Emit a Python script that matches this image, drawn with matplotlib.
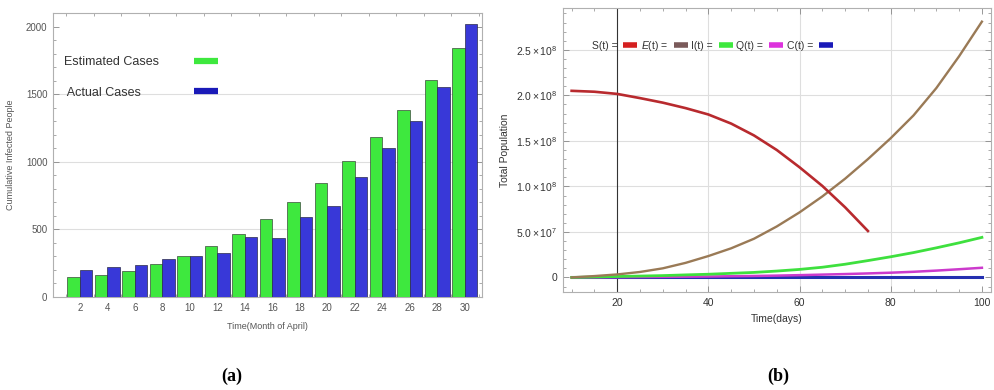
import matplotlib.pyplot as plt
from matplotlib.lines import Line2D
from matplotlib.ticker import MultipleLocator
import numpy as np

plt.rcParams['font.family'] = ['Liberation Sans', 'DejaVu Sans']
plt.rcParams['mathtext.fontset'] = 'custom'
plt.rcParams['mathtext.rm'] = 'Liberation Sans'
plt.rcParams['mathtext.it'] = 'Liberation Sans:italic'

# cumulative infected people, every second day of April
days = [2, 4, 6, 8, 10, 12, 14, 16, 18, 20, 22, 24, 26, 28, 30]
estimated = [150, 160, 195, 242, 301, 378, 469, 575, 701, 842, 1002, 1185, 1383, 1602, 1844]
actual = [200, 225, 235, 279, 301, 324, 440, 437, 595, 674, 887, 1104, 1301, 1556, 2015]

# model compartments over time (days)
t_s = [10, 15, 20, 25, 30, 35, 40, 45, 50, 55, 60, 65, 70, 75]
S_t = [2.05e8, 2.04e8, 2.016e8, 1.97e8, 1.92e8, 1.86e8, 1.79e8, 1.69e8, 1.56e8,
       1.40e8, 1.21e8, 1.005e8, 0.77e8, 0.51e8]
t = [10, 15, 20, 25, 30, 35, 40, 45, 50, 55, 60, 65, 70, 75, 80, 85, 90, 95, 100]
E_t = [0.0, 0.15e7, 0.33e7, 0.6e7, 1.0e7, 1.6e7, 2.35e7, 3.2e7, 4.25e7, 5.6e7, 7.15e7,
       8.9e7, 1.085e8, 1.30e8, 1.53e8, 1.78e8, 2.08e8, 2.43e8, 2.81e8]
I_t = [0.0, 0.05e7, 0.1e7, 0.15e7, 0.2e7, 0.28e7, 0.35e7, 0.45e7, 0.55e7, 0.7e7, 0.88e7,
       1.12e7, 1.45e7, 1.85e7, 2.27e7, 2.73e7, 3.25e7, 3.8e7, 4.4e7]
Q_t = [0.0, 0.015e7, 0.03e7, 0.045e7, 0.06e7, 0.08e7, 0.1e7, 0.13e7, 0.16e7, 0.2e7, 0.25e7,
       0.31e7, 0.37e7, 0.44e7, 0.52e7, 0.62e7, 0.75e7, 0.9e7, 1.06e7]
C_t = [0.0, 0.0, 0.0, 0.0, 0.0, 0.0, 0.0, 0.0, 0.0, 0.0, 0.0, 0.0, 0.0, 0.0, 0.0,
       0.0, 0.0, 0.0, 0.0]

pop_ticks = [0, 5e7, 1e8, 1.5e8, 2e8, 2.5e8]
pop_labels = ['0', r'$5.0\times10^7$', r'$1.0\times10^8$', r'$1.5\times10^8$',
              r'$2.0\times10^8$', r'$2.5\times10^8$']

frame_col = '#b0b0b0'
text_col = '#555555'
grid_col = '#dedede'

fig = plt.figure(figsize=(9.95, 3.9), dpi=100)

# ---- (a) bar chart ----
ax1 = fig.add_axes([0.0533, 0.2385, 0.4311, 0.7282])
x = np.array(days)
w = 0.9
ax1.bar(x - w / 2, estimated, width=w, color='#3ee83e', edgecolor='#3a4a3a', linewidth=0.5, zorder=3)
ax1.bar(x + w / 2, actual, width=w, color='#3838d8', edgecolor='#2a2a4a', linewidth=0.5, zorder=3)
for yv in [500, 1000, 1500]:
    ax1.axhline(yv, color=grid_col, lw=0.8, zorder=1)
ax1.set_xlim(0.05, 31.25)
ax1.set_ylim(0, 2100)
ax1.set_xticks(days)
ax1.xaxis.set_minor_locator(MultipleLocator(1))
ax1.set_yticks([0, 500, 1000, 1500, 2000])
ax1.yaxis.set_minor_locator(MultipleLocator(100))
ax1.tick_params(which='both', direction='in', top=True, right=True, color='#888888',
                labelsize=7, labelcolor=text_col, pad=4)
ax1.tick_params(which='major', length=4, width=0.6)
ax1.tick_params(which='minor', length=2, width=0.5)
ax1.tick_params(axis='x', which='major', length=0)
for sp in ax1.spines.values():
    sp.set_color(frame_col)
    sp.set_linewidth(0.8)
ax1.set_xlabel('Time(Month of April)', fontsize=6.5, color=text_col, labelpad=7)
ax1.set_ylabel('Cumulative Infected People', fontsize=6.5, color=text_col, labelpad=8)

h1 = [Line2D([], [], color='#3ee83e', lw=4.5, solid_capstyle='butt'),
      Line2D([], [], color='#1a1ab8', lw=4.5, solid_capstyle='butt')]
leg1 = ax1.legend(h1, ['Estimated Cases', ' Actual Cases'], loc='upper left',
                  bbox_to_anchor=(0.0, 0.888), markerfirst=False, frameon=False,
                  fontsize=9, handlelength=1.9, handletextpad=2.8, labelspacing=1.5,
                  labelcolor='#333333')

# left-align the label texts while keeping the swatches in one column
fig.canvas.draw()
col = leg1._legend_handle_box.get_children()[0]
col.align = 'left'
tw = [tx.get_window_extent().width for tx in leg1.get_texts()]
rows = col.get_children()
for row, wdt in zip(rows, tw):
    row.sep = 2.8 * 9 + (max(tw) - wdt) * 72 / fig.dpi

# ---- (b) compartment curves ----
ax2 = fig.add_axes([0.5658, 0.2513, 0.4302, 0.7282])
for xv in [40, 60, 80]:
    ax2.axvline(xv, color=grid_col, lw=0.8, zorder=1)
for yv in pop_ticks[1:]:
    ax2.axhline(yv, color=grid_col, lw=0.8, zorder=1)
ax2.axvline(20, color='#333333', lw=0.8, zorder=2)

ax2.plot(t, C_t, color='#2430b0', lw=2.2, zorder=3)
ax2.plot(t, Q_t, color='#cc3acc', lw=1.8, zorder=4)
ax2.plot(t, I_t, color='#3ee03e', lw=2.0, zorder=4)
ax2.plot(t, E_t, color='#9a7a56', lw=1.7, zorder=5, solid_joinstyle='round')
ax2.plot(t_s, S_t, color='#b82a2e', lw=1.9, zorder=6, solid_joinstyle='round')

ax2.set_xlim(8.1, 102)
ax2.set_ylim(-1.6e7, 2.96e8)
ax2.set_xticks([20, 40, 60, 80, 100])
ax2.xaxis.set_minor_locator(MultipleLocator(5))
ax2.set_yticks(pop_ticks)
ax2.set_yticklabels(pop_labels)
ax2.yaxis.set_minor_locator(MultipleLocator(1e7))
ax2.tick_params(which='both', direction='in', top=True, right=True, color='#888888',
                labelsize=7.5, labelcolor='#333333', pad=4)
ax2.tick_params(which='major', length=4, width=0.6)
ax2.tick_params(which='minor', length=2, width=0.5)
for sp in ax2.spines.values():
    sp.set_color(frame_col)
    sp.set_linewidth(0.8)
ax2.set_xlabel('Time(days)', fontsize=7.5, color='#333333', labelpad=5)
ax2.set_ylabel('Total Population', fontsize=7.5, color='#333333', labelpad=4)

h2 = [Line2D([], [], color=c, lw=4, solid_capstyle='butt')
      for c in ['#d42020', '#7a5a5a', '#3ee83e', '#dd33dd', '#1a1ab8']]
ax2.legend(h2, ['S(t) =', r'$E$(t) =', 'I(t) =', 'Q(t) =', 'C(t) ='],
           loc='center left', bbox_to_anchor=(0.045, 0.866), ncol=5,
           markerfirst=False, frameon=False, fontsize=7.5, handlelength=1.3,
           handletextpad=0.6, columnspacing=0.35, labelcolor='#333333')

fig.text(0.233, 0.035, '(a)', fontsize=13, fontweight='bold', family='Liberation Serif',
         ha='center', va='center')
fig.text(0.782, 0.035, '(b)', fontsize=13, fontweight='bold', family='Liberation Serif',
         ha='center', va='center')

fig.savefig('out.png', dpi=100)
